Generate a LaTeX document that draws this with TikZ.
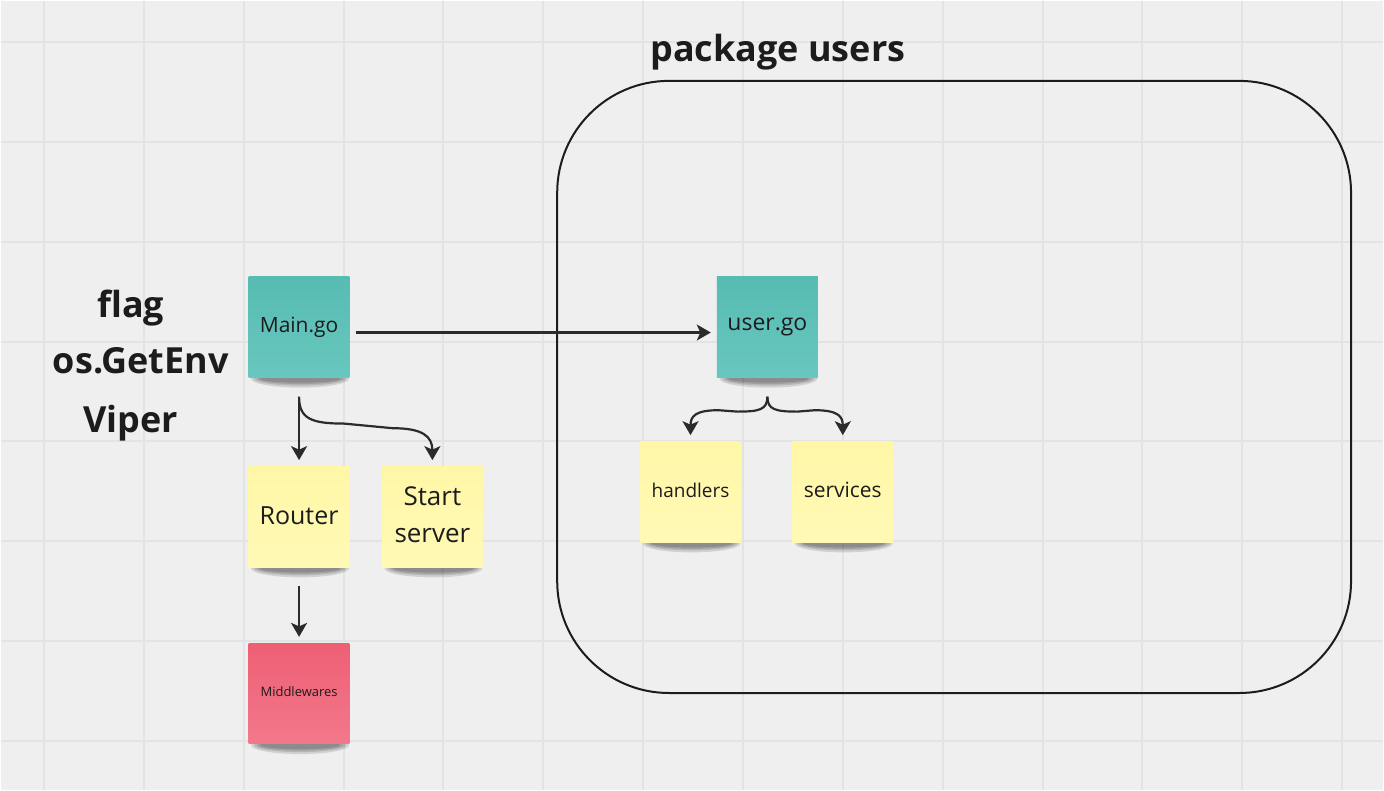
\documentclass[tikz,border=0pt]{standalone}
\usepackage{fontspec}
\setmainfont{Open Sans}
\usetikzlibrary{arrows.meta,calc}
\definecolor{bgc}{HTML}{EFEFEF}
\definecolor{gridc}{HTML}{E3E3E3}
\definecolor{inkc}{HTML}{2B2B2B}
\definecolor{textc}{HTML}{1C1C1C}
\definecolor{tealA}{HTML}{57BCB3}
\definecolor{tealB}{HTML}{68C7BF}
\definecolor{yelA}{HTML}{FFF7A6}
\definecolor{yelB}{HTML}{FFF9B6}
\definecolor{pinkA}{HTML}{EE5F74}
\definecolor{pinkB}{HTML}{F3788B}
\pgfdeclarelayer{gridlayer}
\pgfdeclarelayer{shadowlayer}
\pgfsetlayers{gridlayer,shadowlayer,main}
\tikzset{
  gridline/.style={gridc, line width=2pt},
  sticky/.style={minimum width=101pt, minimum height=101pt, inner sep=0pt, align=center, text=textc},
  teal/.style={sticky, top color=tealA, bottom color=tealB},
  yellow/.style={sticky, top color=yelA, bottom color=yelB},
  pink/.style={sticky, top color=pinkA, bottom color=pinkB},
  arr/.style={inkc, line width=2.2pt, -{Stealth[length=14pt, width=16pt, inset=3.5pt]}},
  boldlabel/.style={font=\bfseries\fontsize{36}{40}\selectfont, text=textc, inner sep=0pt, anchor=base},
  shadowbit/.style={fill=black, opacity=0.12},
}
\newcommand{\noteshadow}[1]{%
  \fill[shadowbit] ($(#1.south)+(1,1)$) ellipse [x radius=49, y radius=9];
  \fill[shadowbit] ($(#1.south)+(1,1)$) ellipse [x radius=46, y radius=7];
  \fill[shadowbit] ($(#1.south)+(1,1)$) ellipse [x radius=43, y radius=5.5];
  \fill[shadowbit] ($(#1.south)+(1,1)$) ellipse [x radius=40, y radius=4];
}
\newcommand{\up}[1]{\raisebox{3pt}{#1}}
\begin{document}
\begin{tikzpicture}[x=1pt, y=-1pt]
\begin{pgfonlayer}{gridlayer}
  \fill[bgc] (0,0) rectangle (1384,790);
  \foreach \x in {43,143,...,1343} \draw[gridline] (\x,0) -- (\x,790);
  \foreach \y in {41,141,...,741} \draw[gridline] (0,\y) -- (1384,\y);
\end{pgfonlayer}
\useasboundingbox (0,0) rectangle (1384,790);

% package box
\node[draw=textc, line width=2pt, rounded corners=112pt, minimum width=795pt, minimum height=613pt, inner sep=0pt] (pkg) at (954.5,386.5) {};
\node[boldlabel] (pkgtitle) at (778,61) {package users};

% left labels
\node[boldlabel] (flag) at (130,317) {flag};
\node[boldlabel] (getenv) at (140,373) {os.GetEnv};
\node[boldlabel] (viper) at (130,432) {Viper};

% sticky notes
\node[teal, font=\fontsize{21}{25}\selectfont] (main) at (298.5,326.5) {\up{Main.go}};
\node[teal, font=\fontsize{23}{27}\selectfont] (user) at (767.5,326.5) {\up{user.go}};
\node[yellow, font=\fontsize{25}{30}\selectfont] (router) at (298.5,516.5) {\up{Router}};
\node[yellow, font=\fontsize{26}{37}\selectfont] (start) at (432,516.5) {\up{\begin{tabular}{@{}c@{}}Start\\server\end{tabular}}};
\node[pink, font=\fontsize{13}{16}\selectfont] (mid) at (298.5,693.5) {\up{Middlewares}};
\node[yellow, font=\fontsize{19}{23}\selectfont] (hand) at (690.5,491.5) {\up{handlers}};
\node[yellow, font=\fontsize{21}{25}\selectfont] (serv) at (843,491.5) {\up{services}};

\begin{pgfonlayer}{shadowlayer}
  \noteshadow{main}
  \noteshadow{user}
  \noteshadow{router}
  \noteshadow{start}
  \noteshadow{mid}
  \noteshadow{hand}
  \noteshadow{serv}
\end{pgfonlayer}

% connectors
\draw[arr] ($(main.east)+(6,5.5)$) -- ($(user.west)+(-6,5.5)$);

\coordinate (mfork) at ($(main.south)+(0,19)$);
\draw[arr] (mfork) -- ($(router.north)+(0,-6)$);
\draw[arr] (mfork) .. controls ($(mfork)+(0,22)$) and ($(mfork)+(12,27)$) .. ($(mfork)+(45,27)$)
  -- ($(start.north)+(-40,-38)$) .. controls ($(start.north)+(-10,-38)$) and ($(start.north)+(0,-30)$) .. ($(start.north)+(0,-6)$);

\draw[arr] ($(router.south)+(0,19)$) -- ($(mid.north)+(0,-6)$);

\coordinate (ufork) at ($(user.south)+(0,19)$);
\draw[arr] (ufork) .. controls ($(ufork)+(0,13)$) and ($(ufork)+(-8,15)$) .. ($(ufork)+(-30,15)$)
  -- ($(hand.north)+(28,-31)$) .. controls ($(hand.north)+(5,-31)$) and ($(hand.north)+(0,-25)$) .. ($(hand.north)+(0,-6)$);
\draw[arr] (ufork) .. controls ($(ufork)+(0,13)$) and ($(ufork)+(8,15)$) .. ($(ufork)+(30,15)$)
  -- ($(serv.north)+(-28,-31)$) .. controls ($(serv.north)+(-5,-31)$) and ($(serv.north)+(0,-25)$) .. ($(serv.north)+(0,-6)$);
\end{tikzpicture}
\end{document}
